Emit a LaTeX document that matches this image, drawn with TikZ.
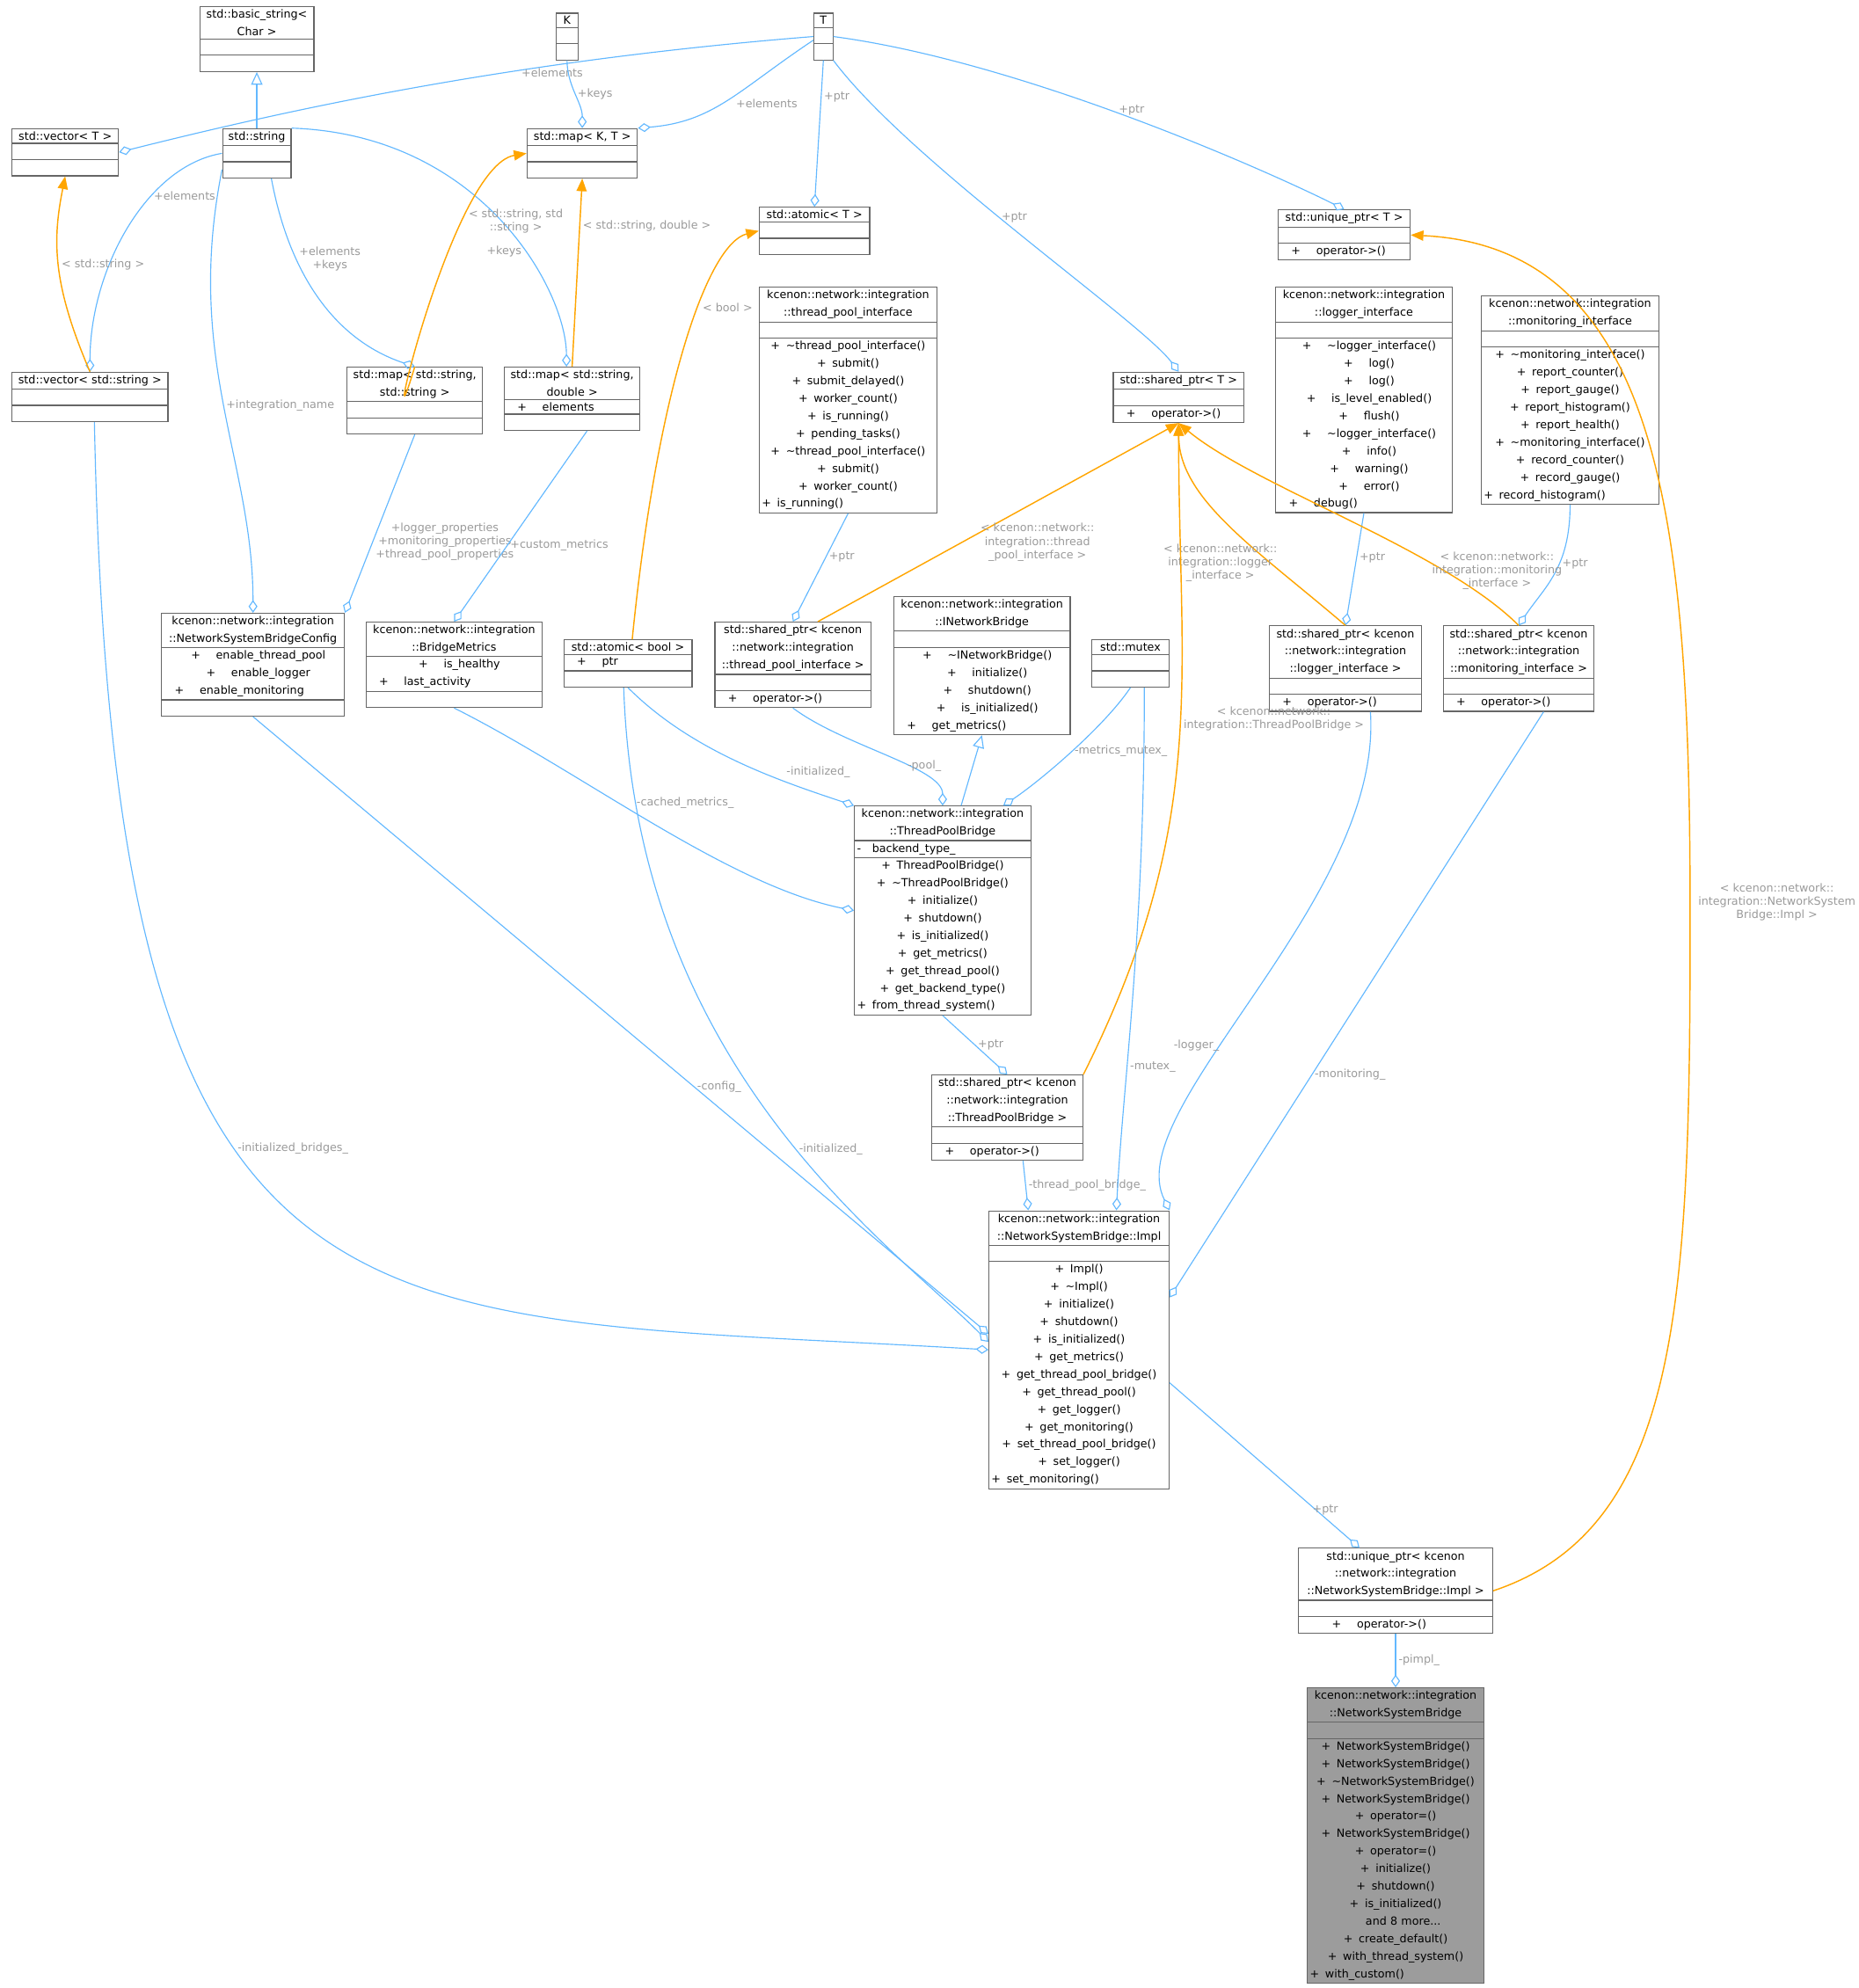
\documentclass[tikz,border=0pt]{standalone}
\usepackage{fontspec}
\usepackage{xcolor}
\usepackage{tikz}
\usetikzlibrary{shapes.multipart,arrows.meta}
\newfontfamily\dejavu{DejaVu Sans}
\definecolor{edgeblue}{HTML}{63B8FF}
\definecolor{edgeorange}{HTML}{FFA500}
\definecolor{boxline}{HTML}{666666}
\definecolor{lblgray}{HTML}{9A9A9A}
\newcommand\blankrow{\rule{0pt}{4pt}}
\newcommand\mrow[2]{\makebox[6pt][l]{#1}#2}
\newcommand\arow[2]{\makebox[12pt][c]{#1}\hspace{2pt}#2}
\tikzset{
  cls/.style={rectangle split, rectangle split parts=3, draw=boxline, line width=0.4pt,
    fill=white, inner xsep=1pt, inner ysep=1pt, anchor=north west,
    text width=#1*0.5pt-2pt, execute at begin node=\centering,
    font=\dejavu\fontsize{4.4}{6.9}\selectfont},
  comp/.style={edgeblue, line width=0.4pt, -{Diamond[open,length=5pt,width=3.5pt]}},
  tmpl/.style={edgeorange, line width=0.5pt, -{Triangle[length=5pt,width=4pt]}},
  inh/.style={edgeblue, line width=0.4pt, -{Triangle[open,length=5pt,width=4.5pt]}},
  lbl/.style={text=lblgray, font=\dejavu\fontsize{4.4}{5.2}\selectfont, align=center, inner sep=1pt}
}
\begin{document}
\begin{tikzpicture}[x=0.5pt,y=0.5pt]
  \useasboundingbox (0,0) rectangle (1465,-1567);

  % template parameters and std classes
  \node[cls=90] (bstr) at (157,-5) {std::basic\_string<\\Char >\nodepart{two}\blankrow\nodepart{three}\blankrow};
  \node[cls=17] (K) at (438,-10) {K\nodepart{two}\blankrow\nodepart{three}\blankrow};
  \node[cls=15] (T) at (641,-10) {T\nodepart{two}\blankrow\nodepart{three}\blankrow};
  \node[cls=84] (vecT) at (9,-101) {std::vector< T >\nodepart{two}\blankrow\nodepart{three}\blankrow};
  \node[cls=54] (str) at (175,-101) {std::string\nodepart{two}\blankrow\nodepart{three}\blankrow};
  \node[cls=87] (mapKT) at (415,-101) {std::map< K, T >\nodepart{two}\blankrow\nodepart{three}\blankrow};
  \node[cls=87] (atomT) at (598,-163) {std::atomic< T >\nodepart{two}\blankrow\nodepart{three}\blankrow};
  \node[cls=104] (uniqT) at (1007,-165) {std::unique\_ptr< T >\nodepart{two}\blankrow\nodepart{three}\arow{+}{operator->()}};
  \node[cls=123] (vecS) at (9,-293) {std::vector< std::string >\nodepart{two}\blankrow\nodepart{three}\blankrow};
  \node[cls=107] (mapSS) at (273,-289) {std::map< std::string,\\std::string >\nodepart{two}\blankrow\nodepart{three}\blankrow};
  \node[cls=107] (mapSD) at (397,-289) {std::map< std::string,\\double >\nodepart{two}\arow{+}{elements}\nodepart{three}\blankrow};
  \node[cls=103] (shT) at (877,-293) {std::shared\_ptr< T >\nodepart{two}\blankrow\nodepart{three}\arow{+}{operator->()}};

  % interfaces
  \node[cls=140] (tpi) at (598,-226) {kcenon::network::integration\\::thread\_pool\_interface\nodepart{two}\blankrow\nodepart{three}
    \mrow{+}{\textasciitilde thread\_pool\_interface()}\\\mrow{+}{submit()}\\\mrow{+}{submit\_delayed()}\\\mrow{+}{worker\_count()}\\
    \mrow{+}{is\_running()}\\\mrow{+}{pending\_tasks()}\\\mrow{+}{\textasciitilde thread\_pool\_interface()}\\\mrow{+}{submit()}\\
    \mrow{+}{worker\_count()}\\\mrow{+}{is\_running()}};
  \node[cls=139] (logi) at (1005,-226) {kcenon::network::integration\\::logger\_interface\nodepart{two}\blankrow\nodepart{three}
    \arow{+}{\textasciitilde logger\_interface()}\\\arow{+}{log()}\\\arow{+}{log()}\\\arow{+}{is\_level\_enabled()}\\\arow{+}{flush()}\\
    \arow{+}{\textasciitilde logger\_interface()}\\\arow{+}{info()}\\\arow{+}{warning()}\\\arow{+}{error()}\\\arow{+}{debug()}};
  \node[cls=140] (moni) at (1167,-233) {kcenon::network::integration\\::monitoring\_interface\nodepart{two}\blankrow\nodepart{three}
    \mrow{+}{\textasciitilde monitoring\_interface()}\\\mrow{+}{report\_counter()}\\\mrow{+}{report\_gauge()}\\\mrow{+}{report\_histogram()}\\
    \mrow{+}{report\_health()}\\\mrow{+}{\textasciitilde monitoring\_interface()}\\\mrow{+}{record\_counter()}\\\mrow{+}{record\_gauge()}\\
    \mrow{+}{record\_histogram()}};

  % middle row
  \node[cls=144] (cfg) at (127,-483) {kcenon::network::integration\\::NetworkSystemBridgeConfig\nodepart{two}
    \arow{+}{enable\_thread\_pool}\\\arow{+}{enable\_logger}\\\arow{+}{enable\_monitoring}\nodepart{three}\blankrow};
  \node[cls=139] (bm) at (288,-490) {kcenon::network::integration\\::BridgeMetrics\nodepart{two}
    \arow{+}{is\_healthy}\\\arow{+}{last\_activity}\nodepart{three}\blankrow};
  \node[cls=101] (atomB) at (444,-504) {std::atomic< bool >\nodepart{two}\arow{+}{ptr}\nodepart{three}\blankrow};
  \node[cls=123] (spTpi) at (563,-490) {std::shared\_ptr< kcenon\\::network::integration\\::thread\_pool\_interface >\nodepart{two}\blankrow\nodepart{three}\arow{+}{operator->()}};
  \node[cls=139] (inb) at (704,-470) {kcenon::network::integration\\::INetworkBridge\nodepart{two}\blankrow\nodepart{three}
    \arow{+}{\textasciitilde INetworkBridge()}\\\arow{+}{initialize()}\\\arow{+}{shutdown()}\\\arow{+}{is\_initialized()}\\\arow{+}{get\_metrics()}};
  \node[cls=61] (mtx) at (860,-504) {std::mutex\nodepart{two}\blankrow\nodepart{three}\blankrow};
  \node[cls=120] (spLog) at (1000,-493) {std::shared\_ptr< kcenon\\::network::integration\\::logger\_interface >\nodepart{two}\blankrow\nodepart{three}\arow{+}{operator->()}};
  \node[cls=119] (spMon) at (1137,-493) {std::shared\_ptr< kcenon\\::network::integration\\::monitoring\_interface >\nodepart{two}\blankrow\nodepart{three}\arow{+}{operator->()}};

  % bridge classes
  \node[cls=139] (tpb) at (673,-635) {kcenon::network::integration\\::ThreadPoolBridge\nodepart{two}\mrow{-}{backend\_type\_}\nodepart{three}
    \mrow{+}{ThreadPoolBridge()}\\\mrow{+}{\textasciitilde ThreadPoolBridge()}\\\mrow{+}{initialize()}\\\mrow{+}{shutdown()}\\
    \mrow{+}{is\_initialized()}\\\mrow{+}{get\_metrics()}\\\mrow{+}{get\_thread\_pool()}\\\mrow{+}{get\_backend\_type()}\\
    \mrow{+}{from\_thread\_system()}};
  \node[cls=119] (spTpb) at (734,-847) {std::shared\_ptr< kcenon\\::network::integration\\::ThreadPoolBridge >\nodepart{two}\blankrow\nodepart{three}\arow{+}{operator->()}};
  \node[cls=142] (impl) at (779,-954) {kcenon::network::integration\\::NetworkSystemBridge::Impl\nodepart{two}\blankrow\nodepart{three}
    \mrow{+}{Impl()}\\\mrow{+}{\textasciitilde Impl()}\\\mrow{+}{initialize()}\\\mrow{+}{shutdown()}\\\mrow{+}{is\_initialized()}\\
    \mrow{+}{get\_metrics()}\\\mrow{+}{get\_thread\_pool\_bridge()}\\\mrow{+}{get\_thread\_pool()}\\\mrow{+}{get\_logger()}\\
    \mrow{+}{get\_monitoring()}\\\mrow{+}{set\_thread\_pool\_bridge()}\\\mrow{+}{set\_logger()}\\\mrow{+}{set\_monitoring()}};
  \node[cls=153] (upImpl) at (1023,-1220) {std::unique\_ptr< kcenon\\::network::integration\\::NetworkSystemBridge::Impl >\nodepart{two}\blankrow\nodepart{three}\hspace{8pt}\arow{+}{operator->()}};
  \node[cls=139, fill=gray!78] (nsb) at (1030,-1330) {kcenon::network::integration\\::NetworkSystemBridge\nodepart{two}\blankrow\nodepart{three}
    \mrow{+}{NetworkSystemBridge()}\\\mrow{+}{NetworkSystemBridge()}\\\mrow{+}{\textasciitilde NetworkSystemBridge()}\\\mrow{+}{NetworkSystemBridge()}\\
    \mrow{+}{operator=()}\\\mrow{+}{NetworkSystemBridge()}\\\mrow{+}{operator=()}\\\mrow{+}{initialize()}\\\mrow{+}{shutdown()}\\
    \mrow{+}{is\_initialized()}\\\mrow{}{and 8 more...}\\\mrow{+}{create\_default()}\\\mrow{+}{with\_thread\_system()}\\\mrow{+}{with\_custom()}};

  % members of the std templates
  \draw[comp] (T.west) .. controls +(-250,-20) and +(120,30) .. node[lbl,pos=0.3,below] {+elements} (vecT.east);
  \draw[comp] (T.200) .. controls +(-60,-40) and +(60,5) .. node[lbl,pos=0.45,below right] {+elements} (mapKT.north east);
  \draw[comp] (K.south) .. controls +(0,-20) and +(0,20) .. node[lbl,pos=0.5,right] {+keys} (mapKT.north);
  \draw[comp] (T.south) -- node[lbl,pos=0.25,right] {+ptr} (atomT.north);
  \draw[comp] (T.east) .. controls +(150,-20) and +(-60,30) .. node[lbl,pos=0.5,above] {+ptr} (uniqT.north);
  \draw[comp] (T.south east) .. controls +(60,-80) and +(-30,40) .. node[lbl,pos=0.45,right] {+ptr} (shT.north);
  \draw[inh] (str.north) -- (bstr.south);
  \draw[comp] (str.west) .. controls +(-60,-10) and +(0,80) .. node[lbl,pos=0.35,right] {+elements} (vecS.north);
  \draw[comp] (str.205) .. controls +(-30,-150) and +(0,120) .. node[lbl,pos=0.5,right] {+integration\_name} (cfg.north);
  \draw[comp] (str.-60) .. controls +(15,-80) and +(-60,20) .. node[lbl,pos=0.3,right] {+elements\\+keys} (mapSS.north);
  \draw[comp] (str.north east) .. controls +(150,-5) and +(0,60) .. node[lbl,pos=0.6,left] {+keys} (mapSD.100);
  \draw[comp] (mapSS.south) -- node[lbl,pos=0.6,right] {+logger\_properties\\+monitoring\_properties\\+thread\_pool\_properties} (cfg.north east);
  \draw[comp] (mapSD.-65) -- node[lbl,pos=0.6,right] {+custom\_metrics} (bm.north);

  % template instances
  \draw[tmpl] (vecS.north) .. controls +(-30,70) and +(-10,-50) .. node[lbl,pos=0.5,right] {< std::string >} (vecT.south);
  \draw[tmpl] (mapSS.north) .. controls +(-30,-100) and +(-60,-10) .. node[lbl,pos=0.72,right] {< std::string, std\\::string >} (mapKT.west);
  \draw[tmpl] (mapSD.north) -- node[lbl,pos=0.75,right] {< std::string, double >} (mapKT.south);
  \draw[tmpl] (atomB.80) .. controls +(20,200) and +(-40,-10) .. node[lbl,pos=0.6,right] {< bool >} (atomT.west);

  % interfaces held by shared pointers
  \draw[comp] (tpi.south) -- node[lbl,pos=0.4,right] {+ptr} (spTpi.north);
  \draw[comp] (logi.south) -- node[lbl,pos=0.4,right] {+ptr} (spLog.north);
  \draw[comp] (moni.south) .. controls +(0,-50) and +(20,30) .. node[lbl,pos=0.4,right] {+ptr} (spMon.north);
  \draw[tmpl] (spTpi.60) -- node[lbl,pos=0.4,right=6pt] {< kcenon::network::\\integration::thread\\\_pool\_interface >} (shT.south);
  \draw[tmpl] (spLog.north) .. controls +(-70,60) and +(0,-60) .. node[lbl,pos=0.3,left=-4pt] {< kcenon::network::\\integration::logger\\\_interface >} (shT.south);
  \draw[tmpl] (spMon.north) .. controls +(-60,60) and +(60,-50) .. node[lbl,pos=0.25,right=-6pt] {< kcenon::network::\\integration::monitoring\\\_interface >} (shT.south);
  \draw[tmpl] (spTpb.north east) .. controls +(100,200) and +(0,-200) .. node[lbl,pos=0.55,right] {< kcenon::network::\\integration::ThreadPoolBridge >} (shT.south);

  % members of ThreadPoolBridge
  \draw[comp] (atomB.south) .. controls +(50,-50) and +(-60,20) .. node[lbl,pos=0.7,above right] {-initialized\_} (tpb.north west);
  \draw[comp] (bm.south) .. controls +(100,-50) and +(-100,20) .. node[lbl,pos=0.45,above right] {-cached\_metrics\_} (tpb.west);
  \draw[comp] (spTpi.south) .. controls +(40,-30) and +(0,30) .. node[lbl,pos=0.6,right] {-pool\_} (tpb.north);
  \draw[inh] (tpb.80) -- (inb.south);
  \draw[comp] (mtx.south) .. controls +(-20,-30) and +(30,20) .. node[lbl,pos=0.5,right] {-metrics\_mutex\_} (tpb.60);
  \draw[comp] (tpb.south) -- node[lbl,pos=0.5,right] {+ptr} (spTpb.north);

  % members of Impl
  \draw[comp] (spTpb.-70) -- node[lbl,pos=0.5,right] {-thread\_pool\_bridge\_} (impl.110);
  \draw[comp] (mtx.-60) .. controls +(0,-200) and +(5,100) .. node[lbl,pos=0.65,right] {-mutex\_} (impl.75);
  \draw[comp] (spLog.-60) .. controls +(10,-150) and +(-40,80) .. node[lbl,pos=0.6,left] {-logger\_} (impl.north east);
  \draw[comp] (spMon.-60) -- node[lbl,pos=0.62,right] {-monitoring\_} (impl.30);
  \draw[comp] (cfg.south) -- node[lbl,pos=0.6,right] {-config\_} (impl.170);
  \draw[comp] (atomB.-100) .. controls +(10,-300) and +(-80,80) .. node[lbl,pos=0.55,right] {-initialized\_} (impl.175);
  \draw[comp] (vecS.-80) .. controls +(15,-750) and +(-500,30) .. node[lbl,pos=0.4,right] {-initialized\_bridges\_} (impl.west);
  \draw[comp] (impl.-20) -- node[lbl,pos=0.82,above] {+ptr} (upImpl.130);
  \draw[tmpl] (upImpl.east) .. controls +(150,50) and +(0,-300) .. (1332,-720)
    .. controls +(0,300) and +(200,-10) .. node[lbl,pos=0.01,right=2pt] {< kcenon::network::\\integration::NetworkSystem\\Bridge::Impl >} (uniqT.east);
  \draw[comp] (upImpl.south) -- node[lbl,pos=0.5,right] {-pimpl\_} (nsb.north);
\end{tikzpicture}
\end{document}
